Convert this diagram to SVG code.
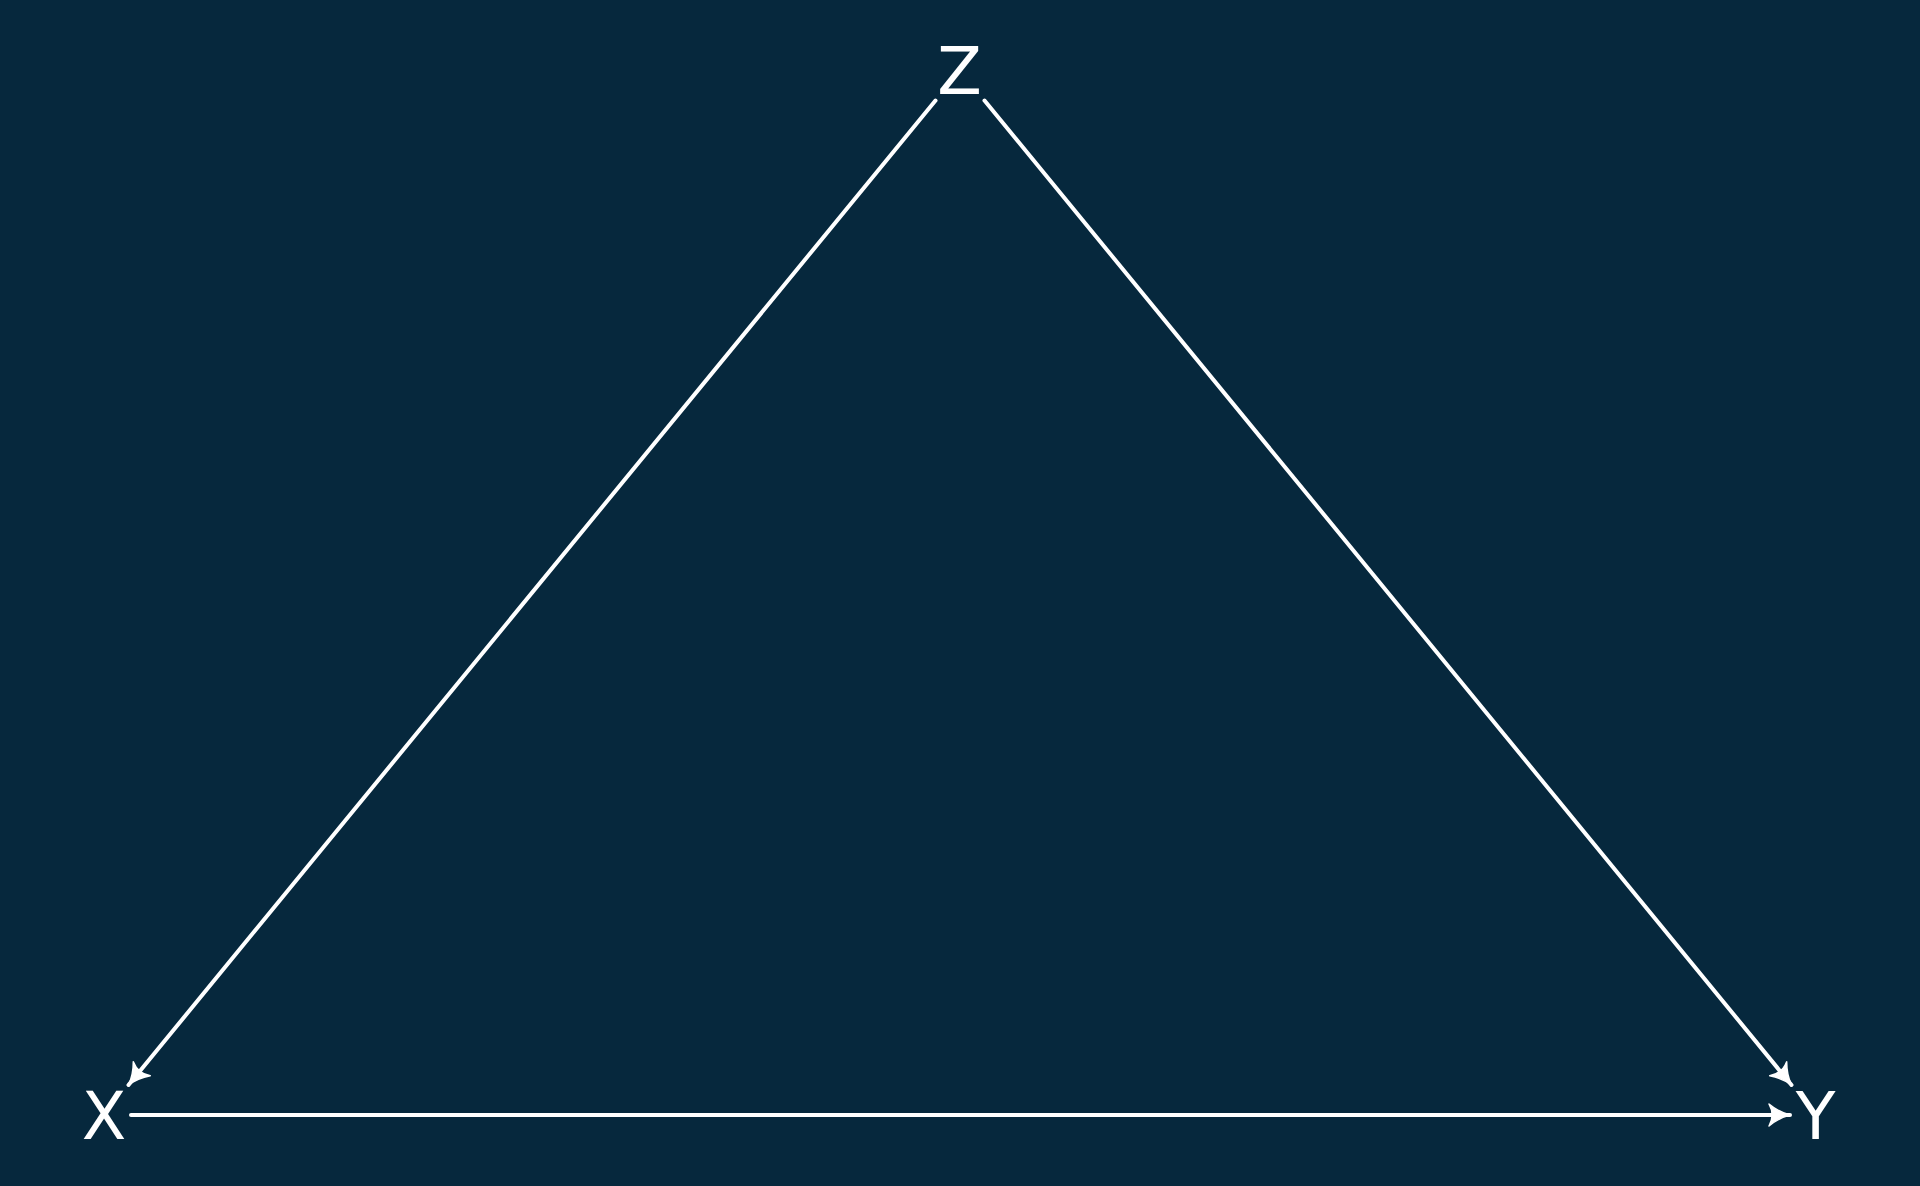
<svg xmlns="http://www.w3.org/2000/svg" width="1920" height="1186" viewBox="0 0 1920 1186">
<style>
.bg{fill:#06283d}
.lbl{font-family:"DejaVu Sans",sans-serif;font-size:65px;fill:#ffffff;text-anchor:middle}
.edge{stroke:#ffffff;stroke-width:4;fill:none;stroke-linecap:round}
</style>
<defs>
<marker id="ah" markerUnits="userSpaceOnUse" markerWidth="40" markerHeight="40" viewBox="-30 -15 40 30" refX="0" refY="0" orient="auto" overflow="visible">
<path d="M0,0 C-8,-2 -15,-6 -21,-11 C-17,-4 -17,4 -21,11 C-15,6 -8,2 0,0 Z" fill="#ffffff" stroke="#ffffff" stroke-width="1.5" stroke-linejoin="round"/>
</marker>
</defs>
<rect class="bg" x="0" y="0" width="1920" height="1186"/>
<g id="connectors">
<line class="edge" x1="935.5" y1="100.5" x2="128.5" y2="1085" marker-end="url(#ah)"/>
<line class="edge" x1="984.5" y1="100.5" x2="1791.5" y2="1085" marker-end="url(#ah)"/>
<line class="edge" x1="131" y1="1115" x2="1790" y2="1115" marker-end="url(#ah)"/>
</g>
<g id="node-Z"><text class="lbl" x="959.5" y="94">Z</text></g>
<g id="node-X"><text class="lbl" x="104" y="1138.5">X</text></g>
<g id="node-Y"><text class="lbl" x="1815.5" y="1138.5">Y</text></g>
</svg>
